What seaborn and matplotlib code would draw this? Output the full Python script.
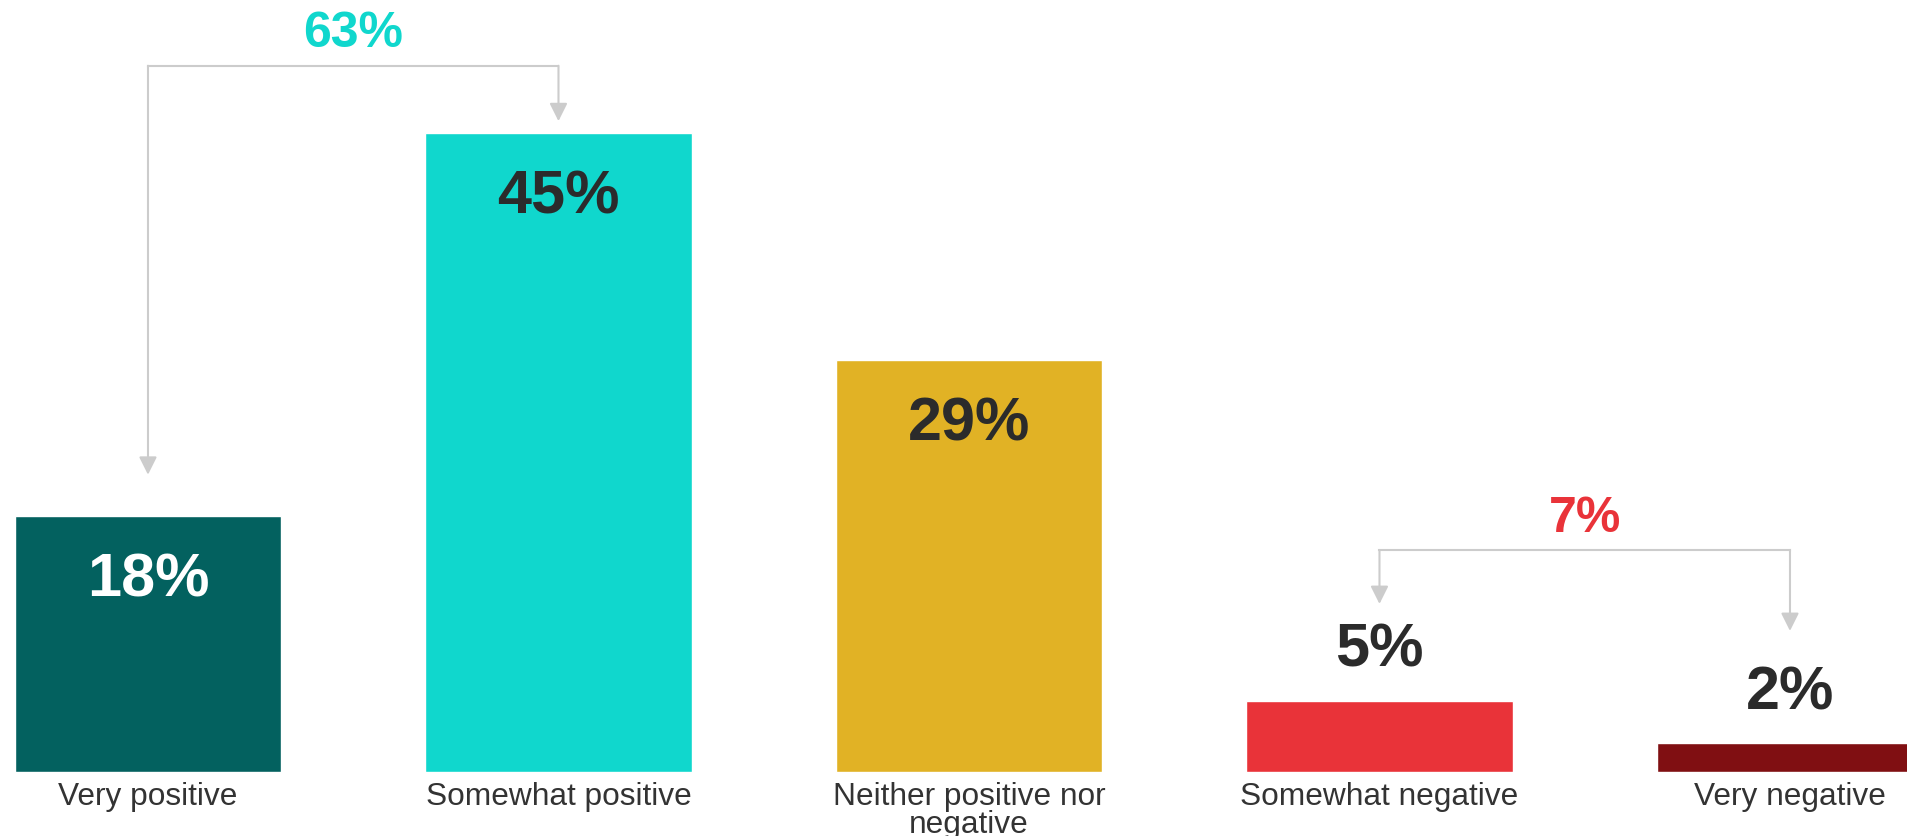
import matplotlib
matplotlib.use("Agg")
import matplotlib.pyplot as plt
import seaborn as sns
import pandas as pd

# ---- data ----
categories = ["Very positive", "Somewhat positive", "Neither positive nor\nnegative",
              "Somewhat negative", "Very negative"]
values = [18, 45, 29, 5, 2]
value_labels = ["18%", "45%", "29%", "5%", "2%"]
group_labels = ["63%", "7%"]
group_members = [[0, 1], [3, 4]]

# ---- styles ----
bar_colors = ["#03615F", "#10D7CD", "#E1B225", "#E93339", "#800F12"]
label_colors = ["#FFFFFF", "#2B2B2B", "#2B2B2B", "#2B2B2B", "#2B2B2B"]
group_colors = ["#10D7CD", "#E93339"]
bracket_color = "#CCCCCC"

sns.set_theme(style="white")
plt.rcParams["font.family"] = ["Liberation Sans", "DejaVu Sans"]

W, H = 1908, 836
px_per_unit = 14.2
bottom_px = 771.5
fig = plt.figure(figsize=(W / 100, H / 100), dpi=100)
ax = fig.add_axes([0, (H - bottom_px) / H, 1, bottom_px / H])

df = pd.DataFrame({"category": categories, "value": values})
sns.barplot(data=df, x="category", y="value", hue="category", palette=bar_colors,
            width=0.65, saturation=1, legend=False, ax=ax)

ax.set_xlim(-0.3605, 4.2875)
ax.set_ylim(0, bottom_px / px_per_unit)
ax.set_xlabel("")
ax.set_ylabel("")
ax.set_yticks([])
sns.despine(ax=ax, left=True, bottom=True)
ax.tick_params(axis="x", length=0, pad=7.5, labelsize=22.8, labelcolor="#333333")
for lbl in ax.get_xticklabels():
    lbl.set_linespacing(0.9)

# value labels
for i, (v, lab, c) in enumerate(zip(values, value_labels, label_colors)):
    y = v - 5.67 if v >= 10 else v + 2.4
    ax.text(i, y, lab, ha="center", va="baseline", fontsize=44,
            fontweight="bold", color=c)

# brackets (layout positions in data units)
bracket_y = [49.7, 15.6]
bracket_tips = [[20.9, 45.8], [11.8, 9.9]]
for members, by, tips, glab, gcol in zip(group_members, bracket_y, bracket_tips,
                                         group_labels, group_colors):
    x0, x1 = members
    ax.plot([x0, x1], [by, by], color=bracket_color, lw=1.5,
            solid_capstyle="projecting")
    for x, tip in zip(members, tips):
        ax.annotate("", xy=(x, tip), xytext=(x, by),
                    arrowprops=dict(arrowstyle="-|>,head_length=0.6,head_width=0.3",
                                    color=bracket_color, lw=1.5, shrinkA=0, shrinkB=0,
                                    mutation_scale=18))
    ax.text((x0 + x1) / 2, by + 1.3, glab, ha="center", va="baseline",
            fontsize=36, fontweight="bold", color=gcol)

fig.savefig("out.png", dpi=100)
